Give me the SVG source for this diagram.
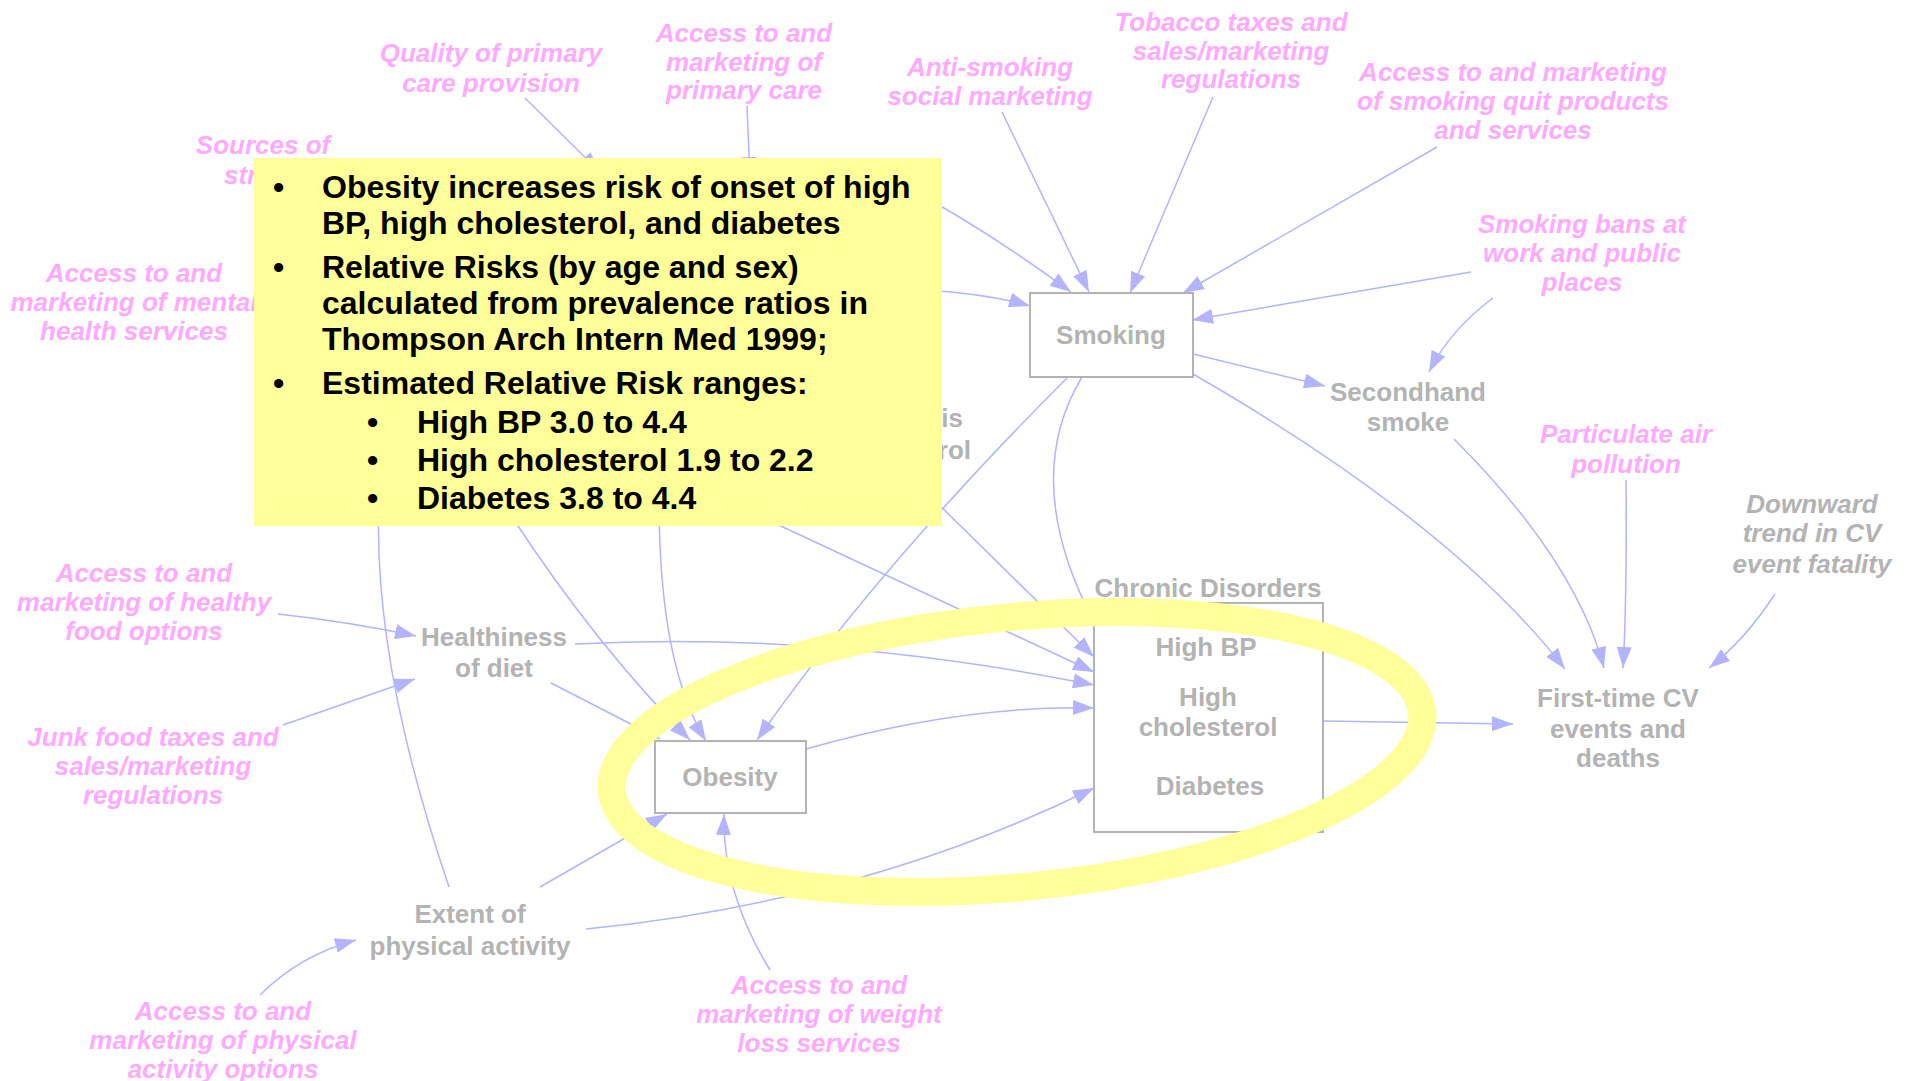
<svg xmlns="http://www.w3.org/2000/svg" width="1913" height="1081" viewBox="0 0 1913 1081">
  <defs>
    <marker id="ah" markerUnits="userSpaceOnUse" markerWidth="21" markerHeight="15" viewBox="0 0 21 15" refX="21" refY="7.5" orient="auto">
      <path d="M0,0 L21,7.5 L0,15 Z" fill="#b3b3ff"/>
    </marker>
    <style>
      text { font-family: "Liberation Sans", Arial, sans-serif; font-weight: bold; }
      .pink { font-size: 26px; font-style: italic; fill: #ffaaff; text-anchor: middle; }
      .gray { font-size: 26px; fill: #b3b3b3; text-anchor: middle; }
      .grayi { font-size: 26px; font-style: italic; fill: #b3b3b3; text-anchor: middle; }
      .box { fill: #ffffff; stroke: #b3b3b3; stroke-width: 2; }
      .edge { fill: none; stroke: #b3b3ff; stroke-width: 1.5; marker-end: url(#ah); }
      .note { font-size: 32px; fill: #000000; }
    </style>
  </defs>
  <rect width="1913" height="1081" fill="#ffffff"/>

  <!-- causal links -->
  <g id="connectors">
    <path class="edge" d="M525,98 L600,172"/>
    <path class="edge" d="M747,106 L750,178"/>
    <path class="edge" d="M900,183 Q990,232 1071,292"/>
    <path class="edge" d="M1002,112 L1089,292"/>
    <path class="edge" d="M1213,97 L1130,293"/>
    <path class="edge" d="M1437,147 L1183,293"/>
    <path class="edge" d="M1471,272 L1192,320"/>
    <path class="edge" d="M915,289 Q990,294 1030,306"/>
    <path class="edge" d="M1493,298 Q1450,330 1429,372"/>
    <path class="edge" d="M1193,354 L1325,386"/>
    <path class="edge" d="M1193,374 Q1453,524 1565,669"/>
    <path class="edge" d="M1454,439 Q1576,561 1604,668"/>
    <path class="edge" d="M1626,480 Q1627,600 1623,668"/>
    <path class="edge" d="M1775,594 Q1745,640 1709,668"/>
    <path class="edge" d="M1323,721 L1513,724"/>
    <path class="edge" d="M806,749 Q960,705 1094,708"/>
    <path class="edge" d="M586,929 Q865,901 1094,788"/>
    <path class="edge" d="M540,887 L667,814"/>
    <path class="edge" d="M770,970 Q722,892 724,814"/>
    <path class="edge" d="M449,887 Q372,660 379,500"/>
    <path class="edge" d="M283,725 L415,679"/>
    <path class="edge" d="M278,614 Q350,622 416,636"/>
    <path class="edge" d="M260,995 Q300,955 356,940"/>
    <path class="edge" d="M551,683 L660,739"/>
    <path class="edge" d="M512,517 Q598,648 690,740"/>
    <path class="edge" d="M659,500 Q659,665 706,741"/>
    <path class="edge" d="M1068,377 Q878,567 757,740"/>
    <path class="edge" d="M925,491 L1094,657"/>
    <path class="edge" d="M770,521 L1094,672"/>
    <path class="edge" d="M575,644 Q826,631 1094,685"/>
    <path class="edge" d="M1082,377 Q1020,480 1093,620"/>
  </g>

  <!-- policy levers (pink) -->
  <g id="quality-primary-care">
    <text class="pink" x="491" y="62">Quality of primary</text>
    <text class="pink" x="491" y="92">care provision</text>
  </g>
  <g id="access-primary-care">
    <text class="pink" x="744" y="42">Access to and</text>
    <text class="pink" x="744" y="71">marketing of</text>
    <text class="pink" x="744" y="99">primary care</text>
  </g>
  <g id="anti-smoking">
    <text class="pink" x="990" y="76">Anti-smoking</text>
    <text class="pink" x="990" y="105">social marketing</text>
  </g>
  <g id="tobacco-taxes">
    <text class="pink" x="1231" y="31">Tobacco taxes and</text>
    <text class="pink" x="1231" y="60">sales/marketing</text>
    <text class="pink" x="1231" y="88">regulations</text>
  </g>
  <g id="quit-products">
    <text class="pink" x="1513" y="81">Access to and marketing</text>
    <text class="pink" x="1513" y="110">of smoking quit products</text>
    <text class="pink" x="1513" y="139">and services</text>
  </g>
  <g id="smoking-bans">
    <text class="pink" x="1582" y="233">Smoking bans at</text>
    <text class="pink" x="1582" y="262">work and public</text>
    <text class="pink" x="1582" y="291">places</text>
  </g>
  <g id="air-pollution">
    <text class="pink" x="1626" y="443">Particulate air</text>
    <text class="pink" x="1626" y="473">pollution</text>
  </g>
  <g id="sources-of-stress">
    <text class="pink" x="263" y="154">Sources of</text>
    <text class="pink" x="224" y="184" style="text-anchor:start">str</text>
  </g>
  <g id="mental-health-services">
    <text class="pink" x="134" y="282">Access to and</text>
    <text class="pink" x="134" y="311">marketing of mental</text>
    <text class="pink" x="134" y="340">health services</text>
  </g>
  <g id="healthy-food">
    <text class="pink" x="144" y="582">Access to and</text>
    <text class="pink" x="144" y="611">marketing of healthy</text>
    <text class="pink" x="144" y="640">food options</text>
  </g>
  <g id="junk-food-taxes">
    <text class="pink" x="153" y="746">Junk food taxes and</text>
    <text class="pink" x="153" y="775">sales/marketing</text>
    <text class="pink" x="153" y="804">regulations</text>
  </g>
  <g id="physical-activity-options">
    <text class="pink" x="223" y="1020">Access to and</text>
    <text class="pink" x="223" y="1049">marketing of physical</text>
    <text class="pink" x="223" y="1078">activity options</text>
  </g>
  <g id="weight-loss-services">
    <text class="pink" x="819" y="994">Access to and</text>
    <text class="pink" x="819" y="1023">marketing of weight</text>
    <text class="pink" x="819" y="1052">loss services</text>
  </g>

  <!-- model variables (gray) -->
  <g id="downward-trend">
    <text class="grayi" x="1812" y="513">Downward</text>
    <text class="grayi" x="1812" y="542">trend in CV</text>
    <text class="grayi" x="1812" y="573">event fatality</text>
  </g>
  <g id="smoking">
    <rect class="box" x="1030" y="293" width="163" height="84"/>
    <text class="gray" x="1111" y="344">Smoking</text>
  </g>
  <g id="secondhand-smoke">
    <text class="gray" x="1408" y="401">Secondhand</text>
    <text class="gray" x="1408" y="431">smoke</text>
  </g>
  <g id="healthiness-of-diet">
    <text class="gray" x="494" y="646">Healthiness</text>
    <text class="gray" x="494" y="677">of diet</text>
  </g>
  <g id="physical-activity">
    <text class="gray" x="470" y="923">Extent of</text>
    <text class="gray" x="470" y="955">physical activity</text>
  </g>
  <g id="obesity">
    <rect class="box" x="655" y="741" width="151" height="72"/>
    <text class="gray" x="730" y="786">Obesity</text>
  </g>
  <g id="chronic-disorders">
    <text class="gray" x="1208" y="597">Chronic Disorders</text>
    <rect class="box" x="1094" y="603" width="229" height="229"/>
    <text class="gray" x="1206" y="656">High BP</text>
    <text class="gray" x="1208" y="706">High</text>
    <text class="gray" x="1208" y="736">cholesterol</text>
    <text class="gray" x="1210" y="795">Diabetes</text>
  </g>
  <g id="first-time-cv">
    <text class="gray" x="1618" y="707">First-time CV</text>
    <text class="gray" x="1618" y="738">events and</text>
    <text class="gray" x="1618" y="767">deaths</text>
  </g>
  <g id="control-node">
    <text class="gray" x="963" y="427" style="text-anchor:end">is</text>
    <text class="gray" x="971" y="459" style="text-anchor:end">rol</text>
  </g>

  <!-- highlight ring around obesity and chronic disorders -->
  <g id="highlight">
    <ellipse cx="1017" cy="752" rx="407" ry="135" transform="rotate(-5.5 1017 752)" fill="none" stroke="#ffff99" stroke-width="28"/>
  </g>

  <!-- callout note -->
  <g id="note">
    <rect x="254" y="158" width="688" height="368" fill="#ffff99"/>
    <text class="note" x="273" y="198">•</text>
    <text class="note" x="322" y="198">Obesity increases risk of onset of high</text>
    <text class="note" x="322" y="234">BP, high cholesterol, and diabetes</text>
    <text class="note" x="273" y="278">•</text>
    <text class="note" x="322" y="278">Relative Risks (by age and sex)</text>
    <text class="note" x="322" y="314">calculated from prevalence ratios in</text>
    <text class="note" x="322" y="350">Thompson Arch Intern Med 1999;</text>
    <text class="note" x="273" y="394">•</text>
    <text class="note" x="322" y="394">Estimated Relative Risk ranges:</text>
    <text class="note" x="367" y="433">•</text>
    <text class="note" x="417" y="433">High BP 3.0 to 4.4</text>
    <text class="note" x="367" y="471">•</text>
    <text class="note" x="417" y="471">High cholesterol 1.9 to 2.2</text>
    <text class="note" x="367" y="509">•</text>
    <text class="note" x="417" y="509">Diabetes 3.8 to 4.4</text>
  </g>
</svg>
